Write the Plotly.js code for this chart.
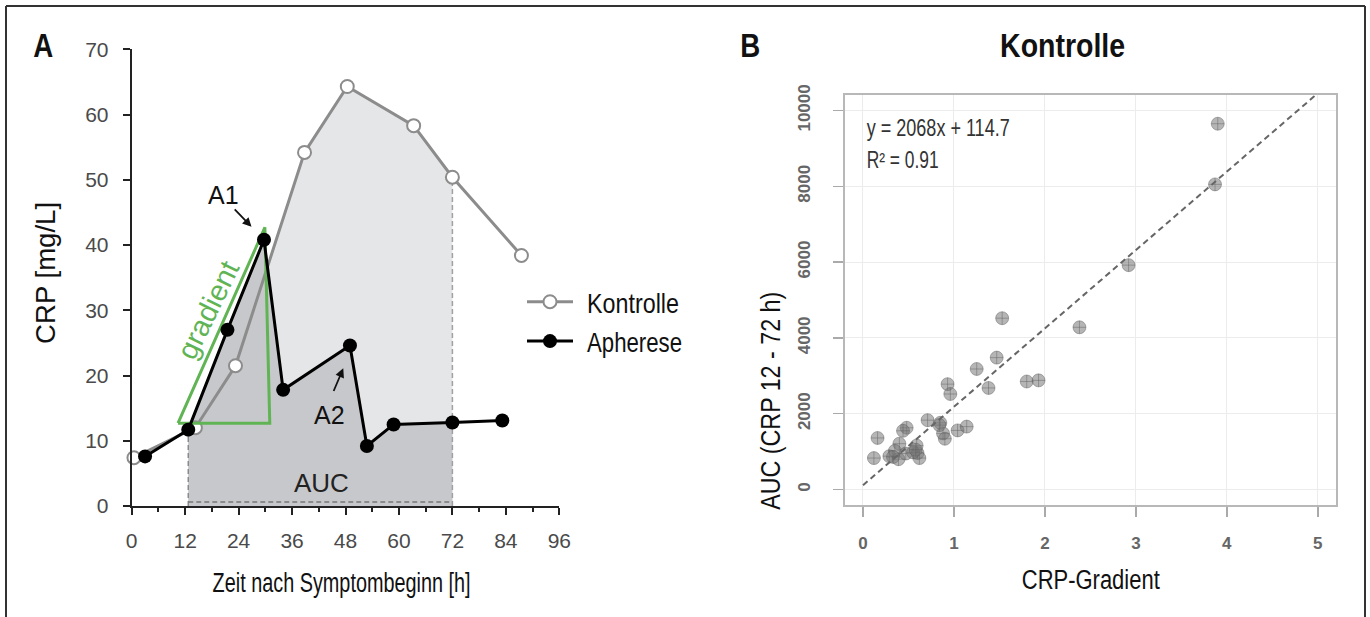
<!DOCTYPE html>
<html>
<head>
<meta charset="utf-8">
<script src="https://cdn.plot.ly/plotly-3.0.1.min.js"></script>
<style>
html,body{margin:0;padding:0;background:#fff;}
#chart{width:1370px;height:617px;}
</style>
</head>
<body>
<div id="chart"></div>
<script>
// ---------- Panel A data (CRP time course) ----------
const kontrolleHours = [0.5, 14.3, 23.3, 38.8, 48.4, 63.3, 72, 87.5];
const kontrolleCRP   = [7.4, 12.0, 21.5, 54.2, 64.3, 58.3, 50.4, 38.4];
const apheresHours   = [3.0, 12.7, 21.5, 29.7, 34.0, 49.0, 52.8, 58.8, 72, 83.2];
const apheresCRP     = [7.6, 11.7, 27.0, 40.8, 17.8, 24.6, 9.2, 12.5, 12.8, 13.1];
const aucWindow      = [12.7, 72];          // AUC integration window [h]
const gradientTriX   = [10.4, 31.0, 29.9, 10.4];
const gradientTriY   = [12.7, 12.7, 42.7, 12.7];
const xTicksA        = [0, 12, 24, 36, 48, 60, 72, 84, 96];
const yTicksA        = [0, 10, 20, 30, 40, 50, 60, 70];

// ---------- Panel B data (AUC vs CRP gradient, Kontrolle) ----------
const crpGradient = [3.90, 3.87, 2.92, 1.53, 2.38, 1.47, 1.25, 1.38, 1.80, 1.93,
                     0.93, 0.96, 0.71, 0.85, 0.88, 0.90, 1.04, 1.14, 0.48, 0.44,
                     0.16, 0.12, 0.29, 0.40, 0.35, 0.39, 0.47, 0.59, 0.60, 0.62,
                     0.33, 0.55, 0.84, 0.58];
const aucValues   = [9650, 8050, 5920, 4520, 4280, 3480, 3180, 2680, 2850, 2880,
                     2780, 2520, 1830, 1760, 1480, 1340, 1560, 1660, 1630, 1550,
                     1360, 830, 880, 1210, 1020, 800, 950, 1160, 960, 830,
                     860, 980, 1700, 1050];
const regSlope = 2068, regIntercept = 114.7;
const regXRange = [0, 5];
const xTicksB = [0, 1, 2, 3, 4, 5];
const yTicksB = [0, 2000, 4000, 6000, 8000, 10000];

// ---------- helpers ----------
const W = 1370, H = 617;
const px = x => x / W, py = y => 1 - y / H;
const SANS = '"Liberation Sans", Arial, Helvetica, sans-serif';

function interp(xs, ys, x) {
  for (let i = 0; i < xs.length - 1; i++) {
    if (x >= xs[i] && x <= xs[i + 1]) {
      const t = (x - xs[i]) / (xs[i + 1] - xs[i]);
      return ys[i] + t * (ys[i + 1] - ys[i]);
    }
  }
  return ys[ys.length - 1];
}
function windowed(xs, ys, a, b) {
  const X = [a], Y = [interp(xs, ys, a)];
  xs.forEach((x, i) => { if (x > a && x < b) { X.push(x); Y.push(ys[i]); } });
  X.push(b); Y.push(interp(xs, ys, b));
  return {X, Y};
}
const kWin = windowed(kontrolleHours, kontrolleCRP, aucWindow[0], aucWindow[1]);
const aWin = windowed(apheresHours, apheresCRP, aucWindow[0], aucWindow[1]);

const traces = [
  {x: kWin.X, y: kWin.Y, xaxis: 'x', yaxis: 'y', mode: 'lines', fill: 'tozeroy',
   fillcolor: 'rgb(229,230,232)', line: {width: 0}, showlegend: false, hoverinfo: 'skip'},
  {x: aWin.X, y: aWin.Y, xaxis: 'x', yaxis: 'y', mode: 'lines', fill: 'tozeroy',
   fillcolor: 'rgb(199,200,203)', line: {width: 0}, showlegend: false, hoverinfo: 'skip'},
  {x: [aucWindow[0], aucWindow[0]], y: [0, interp(apheresHours, apheresCRP, aucWindow[0])],
   xaxis: 'x', yaxis: 'y', mode: 'lines', line: {color: '#8a8a8a', width: 1.5, dash: '5px,3px'},
   showlegend: false, hoverinfo: 'skip'},
  {x: [aucWindow[1], aucWindow[1]], y: [0, interp(kontrolleHours, kontrolleCRP, aucWindow[1])],
   xaxis: 'x', yaxis: 'y', mode: 'lines', line: {color: '#a0a0a0', width: 1.5, dash: '5px,3px'},
   showlegend: false, hoverinfo: 'skip'},
  {x: aucWindow, y: [0.6, 0.6], xaxis: 'x', yaxis: 'y', mode: 'lines',
   line: {color: '#777', width: 1.5, dash: '5px,3px'}, showlegend: false, hoverinfo: 'skip'},
  {x: kontrolleHours, y: kontrolleCRP, name: 'Kontrolle', xaxis: 'x', yaxis: 'y',
   mode: 'lines+markers', cliponaxis: false,
   line: {color: 'rgb(140,140,140)', width: 3},
   marker: {symbol: 'circle', size: 13, color: '#fff', line: {color: 'rgb(140,140,140)', width: 2}}},
  {x: gradientTriX, y: gradientTriY, xaxis: 'x', yaxis: 'y', mode: 'lines',
   line: {color: 'rgb(96,180,84)', width: 3}, showlegend: false, hoverinfo: 'skip'},
  {x: apheresHours, y: apheresCRP, name: 'Apherese', xaxis: 'x', yaxis: 'y',
   mode: 'lines+markers', cliponaxis: false,
   line: {color: '#000', width: 3},
   marker: {symbol: 'circle', size: 14, color: '#000'}},
  {x: crpGradient, y: aucValues, xaxis: 'x2', yaxis: 'y2', mode: 'markers', showlegend: false,
   marker: {symbol: 'circle-cross', size: 13, color: 'rgba(120,120,120,0.55)',
            line: {color: 'rgba(85,85,85,0.4)', width: 1}}},
  {x: regXRange, y: regXRange.map(v => regSlope * v + regIntercept), xaxis: 'x2', yaxis: 'y2',
   mode: 'lines', showlegend: false, line: {color: '#666', width: 2, dash: '6px,4px'}}
];

// annotations; "len" = horizontal text length in px (condensed typeface emulation)
const ann = [
  {text: 'A', x: 43, y: 45, size: 34, bold: true, len: 20},
  {text: 'B', x: 750, y: 45, size: 34, bold: true, len: 20},
  {text: 'Kontrolle', x: 1062, y: 45, size: 34, bold: true, len: 125},
  {text: 'Zeit nach Symptombeginn [h]', x: 341, y: 583, size: 27, len: 258},
  {text: 'CRP [mg/L]', x: 45, y: 273, size: 28, angle: -90, len: 142},
  {text: 'CRP-Gradient', x: 1091, y: 580, size: 27, len: 138},
  {text: 'AUC (CRP 12 - 72 h)', x: 770, y: 401, size: 28, angle: -90, len: 218},
  {text: 'y = 2068x + 114.7', x: 866, y: 128, size: 23, left: true, len: 143, color: '#333'},
  {text: 'R² = 0.91', x: 866, y: 160, size: 23, left: true, len: 72, color: '#333'}
];

const annotations = ann.map(a => ({
  text: a.text, xref: 'paper', yref: 'paper',
  x: px(a.left ? a.x + a.len / 2 : a.x), y: py(a.y),
  xanchor: 'center', yanchor: 'middle', textangle: a.angle || 0,
  showarrow: false,
  font: {family: SANS, size: a.size, color: a.color || '#111', weight: a.bold ? 'bold' : 'normal'}
})).concat([
  {text: 'A1', xref: 'x', yref: 'y', x: 20.6, y: 47.6, showarrow: false, xanchor: 'center', yanchor: 'middle',
   font: {family: SANS, size: 25, color: '#111'}},
  {text: '', xref: 'x', yref: 'y', axref: 'x', ayref: 'y', x: 26.9, y: 42.8, ax: 22.8, ay: 45.7,
   showarrow: true, arrowhead: 2, arrowsize: 1, arrowwidth: 1.8, arrowcolor: '#111'},
  {text: 'A2', xref: 'x', yref: 'y', x: 44.5, y: 14.0, showarrow: false, xanchor: 'center', yanchor: 'middle',
   font: {family: SANS, size: 25, color: '#111'}},
  {text: '', xref: 'x', yref: 'y', axref: 'x', ayref: 'y', x: 47.5, y: 21.1, ax: 45.2, ay: 17.4,
   showarrow: true, arrowhead: 2, arrowsize: 1, arrowwidth: 1.8, arrowcolor: '#111'},
  {text: 'AUC', xref: 'x', yref: 'y', x: 42.6, y: 3.5, showarrow: false, xanchor: 'center', yanchor: 'middle',
   font: {family: SANS, size: 26, color: '#222'}},
  {text: 'gradient', xref: 'x', yref: 'y', x: 17.2, y: 30.0, textangle: -64, showarrow: false,
   xanchor: 'center', yanchor: 'middle',
   font: {family: SANS, size: 29, color: 'rgb(96,180,84)'}}
]);

const layout = {
  width: W, height: H,
  margin: {l: 0, r: 0, t: 0, b: 0},
  paper_bgcolor: '#fff', plot_bgcolor: 'rgba(0,0,0,0)',
  showlegend: true,
  legend: {x: px(522), y: py(277), xanchor: 'left', yanchor: 'top',
           font: {family: SANS, size: 28, color: '#111'}, bgcolor: 'rgba(0,0,0,0)',
           tracegroupgap: 0, itemwidth: 46},
  xaxis: {domain: [px(131.7), px(559.3)], range: [0, 96], tickvals: xTicksA,
          showline: true, linecolor: '#222', linewidth: 2, showgrid: false, zeroline: false,
          ticks: 'outside', ticklen: 7, tickwidth: 2, tickcolor: '#222',
          minor: {dtick: 6, ticks: 'outside', ticklen: 4, tickwidth: 2, tickcolor: '#222'},
          tickfont: {family: SANS, size: 21, color: '#4a4a4a'}, ticklabelstandoff: 8,
          anchor: 'y', fixedrange: true},
  yaxis: {domain: [py(506), py(49.3)], range: [0, 70], tickvals: yTicksA,
          showline: true, linecolor: '#222', linewidth: 2, showgrid: false, zeroline: false,
          ticks: 'outside', ticklen: 7, tickwidth: 2, tickcolor: '#222',
          tickfont: {family: SANS, size: 21, color: '#4a4a4a'}, ticklabelstandoff: 10,
          anchor: 'x', fixedrange: true},
  xaxis2: {domain: [px(844.8), px(1336)], range: [-0.2, 5.2], tickvals: xTicksB,
           ticktext: xTicksB.map(String),
           showline: true, mirror: true, linecolor: '#b8b8b8', linewidth: 2,
           showgrid: true, gridcolor: '#ececec', gridwidth: 1, zeroline: false,
           ticks: 'outside', ticklen: 10, tickwidth: 1.5, tickcolor: '#aaa',
           tickfont: {family: SANS, size: 17, color: '#666', weight: 'bold'}, ticklabelstandoff: 12,
           anchor: 'y2', fixedrange: true},
  yaxis2: {domain: [py(504.7), py(95.3)], range: [-400, 10400], tickvals: yTicksB,
           ticktext: yTicksB.map(String),
           showline: true, mirror: true, linecolor: '#b8b8b8', linewidth: 2,
           showgrid: true, gridcolor: '#ececec', gridwidth: 1, zeroline: false,
           ticks: 'outside', ticklen: 10, tickwidth: 1.5, tickcolor: '#aaa', tickangle: -90,
           tickfont: {family: SANS, size: 17, color: '#666', weight: 'bold'}, ticklabelstandoff: 16,
           anchor: 'x2', fixedrange: true},
  annotations: annotations,
  shapes: [
    {type: 'line', xref: 'paper', yref: 'paper', x0: px(6), x1: px(1365), y0: py(6), y1: py(6),
     line: {color: '#333', width: 2}},
    {type: 'line', xref: 'paper', yref: 'paper', x0: px(6), x1: px(6), y0: py(6), y1: 0,
     line: {color: '#333', width: 2}},
    {type: 'line', xref: 'paper', yref: 'paper', x0: px(1365), x1: px(1365), y0: py(6), y1: 0,
     line: {color: '#333', width: 2}}
  ]
};

function condense(el, target) {
  if (!el) return;
  el.setAttribute('textLength', target);
  el.setAttribute('lengthAdjust', 'spacingAndGlyphs');
}

Plotly.newPlot('chart', traces, layout, {staticPlot: true, displayModeBar: false}).then(gd => {
  const annEls = gd.querySelectorAll('.annotation');
  ann.forEach((a, i) => {
    const g = gd.querySelector('.annotation[data-index="' + i + '"] text.annotation-text') ||
              (annEls[i] && annEls[i].querySelector('text'));
    condense(g, a.len);
  });
  const legendTargets = [92, 95];
  gd.querySelectorAll('.legendtext').forEach((t, i) => {
    condense(t, legendTargets[i]);
    const x0 = parseFloat(t.getAttribute('x') || '0');
    t.setAttribute('x', x0 + 9);
  });
});
</script>
</body>
</html>
